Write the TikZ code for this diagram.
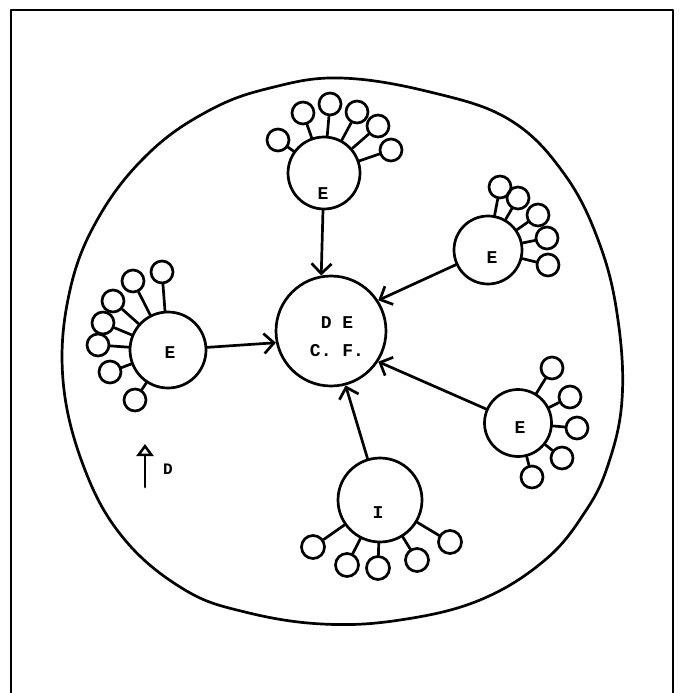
\documentclass[tikz,border=0pt]{standalone}
\usepackage{fontspec}
\setmonofont{Liberation Mono}
\usetikzlibrary{arrows.meta}
\begin{document}
\begin{tikzpicture}[x=1pt,y=-1pt, line width=2.7pt, line join=round, line cap=round,
  hub/.style={circle,draw,inner sep=0pt},
  sat/.style={circle,draw,inner sep=0pt,minimum size=22pt},
  lbl/.style={font=\ttfamily\bfseries\fontsize{18}{20}\selectfont, inner sep=0pt},
  arr/.style={-{Straight Barb[length=10pt,width=20pt,line width=2.7pt]}}]
\useasboundingbox (0,0) rectangle (680,693);
% frame
\draw[line width=2.7pt, line cap=butt] (11,693) -- (11,10) -- (673,10) -- (673,693);
% outer blob
\draw plot[smooth cycle, tension=0.65] coordinates {
  (340,78) (430,92) (510,120) (565,175) (600,245) (618,320) (622,400) (608,465)
  (585,512) (545,560) (480,600) (400,620) (322,624) (245,612) (185,590) (125,540)
  (85,470) (63,380) (70,290) (100,215) (150,152) (210,110) (270,88)};
% centre
\node[hub, minimum size=110pt] (C) at (331,331) {};
\node[lbl] (Ct1) at (337,323) {D E};
\node[lbl] (Ct2) at (337,351) {C. F.};
% top E
\node[hub, minimum size=72pt] (tE) at (324,173) {};
\node[lbl] (tEl) at (323,194) {E};
\foreach \p [count=\i] in {(278,140),(303,113),(330,104),(357,112),(378,126),(391,150)}
  {\node[sat] (t\i) at \p {}; \draw (tE) -- (t\i);}
% upper right E
\node[hub, minimum size=68pt] (uE) at (488,250) {};
\node[lbl] (uEl) at (492,258) {E};
\foreach \p [count=\i] in {(500,187),(518,198),(538,215),(547,238),(548,265)}
  {\node[sat] (u\i) at \p {}; \draw (uE) -- (u\i);}
% left E
\node[hub, minimum size=76pt] (lE) at (168,350) {};
\node[lbl] (lEl) at (170,353) {E};
\foreach \p [count=\i] in {(162,272),(133,281),(113,301),(103,323),(98,345),(110,372),(135,400)}
  {\node[sat] (l\i) at \p {}; \draw (lE) -- (l\i);}
% lower right E
\node[hub, minimum size=67pt] (rE) at (518,423) {};
\node[lbl] (rEl) at (520,428) {E};
\foreach \p [count=\i] in {(552,368),(570,397),(577,428),(562,458),(532,477)}
  {\node[sat] (r\i) at \p {}; \draw (rE) -- (r\i);}
% bottom I
\node[hub, minimum size=84pt] (bI) at (380,500) {};
\node[lbl] (bIl) at (378,513) {I};
\foreach \p [count=\i] in {(313,547),(347,565),(378,568),(417,560),(450,542)}
  {\node[sat, minimum size=23pt] (b\i) at \p {}; \draw (bI) -- (b\i);}
% arrows
\draw[arr] (tE) -- (C.100);
\draw[arr] (uE) -- (C.33);
\draw[arr] (lE) -- (C.192);
\draw[arr] (rE) -- (C.-33);
\draw[arr] (bI) -- (C.-75);
% D marker
\coordinate (d0) at (145,487);
\coordinate (d1) at (145,444);
\draw[-{Triangle[open,length=12pt,width=17pt,line width=2.5pt]}] (d0) -- (d1);
\node[font=\ttfamily\bfseries\fontsize{16}{18}\selectfont, inner sep=0pt] (Dl) at (168,469) {D};
\end{tikzpicture}
\end{document}
